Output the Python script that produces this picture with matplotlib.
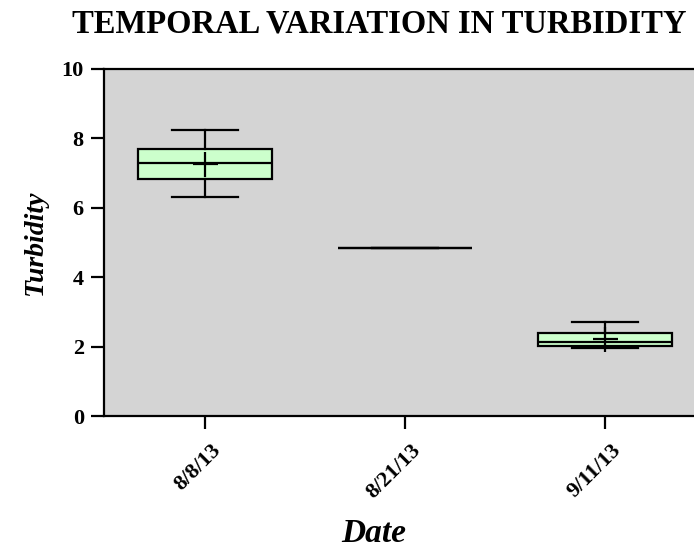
import matplotlib
matplotlib.use("Agg")
import matplotlib.pyplot as plt
import matplotlib.transforms as mtransforms

# Box summary per sampling date
dates = ["8/8/13", "8/21/13", "9/11/13"]
whislo = [6.30, 4.84, 1.97]
q1 = [6.83, 4.84, 2.03]
med = [7.28, 4.84, 2.12]
q3 = [7.69, 4.84, 2.38]
whishi = [8.24, 4.84, 2.72]
means = [7.25, 4.84, 2.22]
positions = [1, 2, 3]

stats = []
for i in range(len(dates)):
    stats.append(dict(label=dates[i], whislo=whislo[i], q1=q1[i], med=med[i],
                      q3=q3[i], whishi=whishi[i], fliers=[]))

plt.rcParams['font.family'] = ['Liberation Serif', 'DejaVu Serif']
plt.rcParams['font.weight'] = 'bold'

fig = plt.figure(figsize=(6.94, 5.52), dpi=100)
ax = fig.add_axes([104 / 694, 1 - 416 / 552, (705 - 104) / 694, (416 - 69) / 552])
ax.set_facecolor("#d4d4d4")

lw = 1.6
ax.bxp(stats, positions=positions, widths=0.667, capwidths=0.333,
       patch_artist=True,
       boxprops=dict(facecolor="#ccffcc", edgecolor="black", linewidth=lw),
       medianprops=dict(color="black", linewidth=lw),
       whiskerprops=dict(color="black", linewidth=lw),
       capprops=dict(color="black", linewidth=lw))

# mean markers (only where the box has a spread)
for i in range(len(dates)):
    if whishi[i] > whislo[i]:
        ax.plot(positions[i], means[i], marker="+", markersize=18,
                markeredgecolor="black", markeredgewidth=lw, zorder=5)

ax.set_xlim(0.495, 3.5)
ax.set_ylim(0, 10)
ax.set_yticks([0, 2, 4, 6, 8, 10])
ax.set_xticks(positions)
ax.set_xticklabels(dates, rotation=45, ha="right", rotation_mode="anchor")

for s in ax.spines.values():
    s.set_linewidth(lw)
ax.tick_params(direction="out", length=9.5, width=lw, labelsize=16, pad=5)
ax.tick_params(axis="x", pad=8)

# nudge rotated date labels a little to the right
shift = mtransforms.ScaledTranslation(6 / 100, 0, fig.dpi_scale_trans)
for lab in ax.get_xticklabels():
    lab.set_transform(lab.get_transform() + shift)

ax.set_ylabel("Turbidity", fontsize=20, fontstyle="italic", fontweight="bold", labelpad=10)
fig.text(374 / 694, 1 - 534 / 552, "Date", ha="center", va="center",
         fontsize=24, fontstyle="italic", fontweight="bold")
fig.text(379 / 694, 0.985, "TEMPORAL VARIATION IN TURBIDITY", ha="center", va="top",
         fontsize=23.5, fontweight="bold")

fig.savefig("out.png", dpi=100)
